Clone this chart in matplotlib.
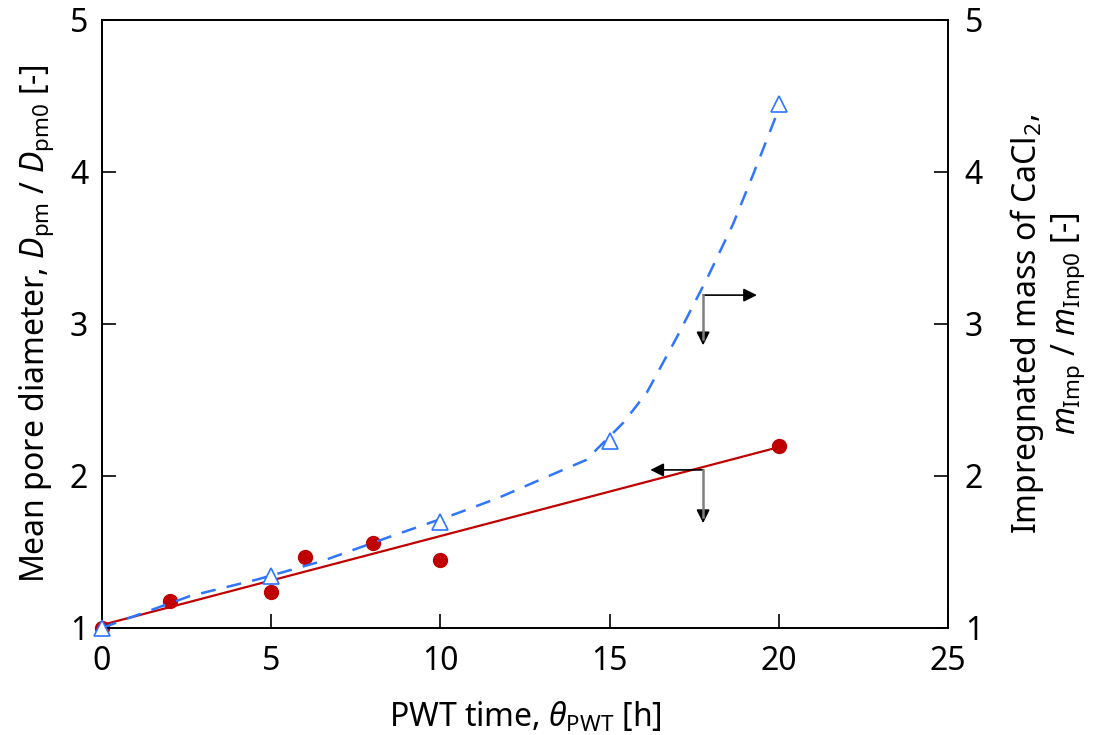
import matplotlib
matplotlib.use("Agg")
import matplotlib.pyplot as plt

plt.rcParams['font.family'] = ['Noto Sans', 'DejaVu Sans']
plt.rcParams['mathtext.fontset'] = 'custom'
plt.rcParams['mathtext.rm'] = 'Noto Sans'
plt.rcParams['mathtext.it'] = 'Noto Sans:italic'

# Mean pore diameter data (left axis)
pore_time = [0, 2, 5, 6, 8, 10, 20]
pore_ratio = [1.00, 1.18, 1.24, 1.47, 1.56, 1.45, 2.20]
# linear fit line for pore diameter
fit_time = [0, 20]
fit_ratio = [1.02, 2.19]

# Impregnated mass data (right axis)
mass_time = [0, 5, 10, 15, 20]
mass_ratio = [1.00, 1.34, 1.70, 2.23, 4.45]
# model curve for impregnated mass
curve_time = [0, 0.6, 2.6, 4.6, 6.5, 8.5, 10.5, 11.7, 13.2, 14.3, 15.4, 16.1, 17.0, 17.9, 18.65, 19.25, 19.9, 20.0]
curve_ratio = [1.00, 1.05, 1.21, 1.32, 1.44, 1.60, 1.755, 1.855, 2.00, 2.105, 2.35, 2.55, 2.92, 3.31, 3.66, 3.99, 4.36, 4.45]

xticks = [0, 5, 10, 15, 20, 25]
yticks = [1, 2, 3, 4, 5]

red = '#C00000'
blue = '#2E75FF'
FS = 23

fig = plt.figure(figsize=(10.96, 7.35), dpi=100)
ax = fig.add_axes([0.0931, 0.1456, 0.772, 0.8272])
ax2 = ax.twinx()

ax.plot(fit_time, fit_ratio, color=red, lw=1.6, zorder=2)
ax.plot(pore_time, pore_ratio, 'o', color=red, ms=10, mec=red, zorder=3, clip_on=False)

ax2.plot(curve_time, curve_ratio, '--', color=blue, lw=1.8, dashes=(6, 4.5), zorder=2)
ax2.plot(mass_time, mass_ratio, '^', mfc='white', mec=blue, ms=11, mew=1.2, zorder=3, clip_on=False)

for a in (ax, ax2):
    a.set_xlim(0, 25)
    a.set_ylim(1, 5)
    a.set_yticks(yticks)
    a.tick_params(direction='in', length=10, width=1.2, labelsize=FS)
    for s in a.spines.values():
        s.set_linewidth(1.3)
ax.set_xticks(xticks)
ax.tick_params(axis='x', pad=12)
ax.tick_params(axis='y', pad=10)
ax2.tick_params(axis='y', pad=12)

ax.set_xlabel(r'PWT time, $\theta_{\mathrm{PWT}}$ [h]', fontsize=FS, labelpad=16)
ax.set_ylabel(r'Mean pore diameter, $D_{\mathrm{pm}}$ / $D_{\mathrm{pm0}}$ [-]', fontsize=FS, labelpad=10)
ax2.set_ylabel('Impregnated mass of CaCl$_{2}$,\n' + r'$m_{\mathrm{Imp}}$ / $m_{\mathrm{Imp0}}$ [-]',
               fontsize=FS, labelpad=18, linespacing=1.1)

# indicator arrows
head = dict(arrowstyle='-|>', color='black', lw=1.2, mutation_scale=20, shrinkA=0, shrinkB=0)
gray = '#808080'
# upper (right axis)
ax.annotate('', xy=(19.35, 3.19), xytext=(17.76, 3.19), arrowprops=head)
ax.plot([17.76, 17.76], [3.19, 2.90], color=gray, lw=1.8, zorder=4)
ax.annotate('', xy=(17.76, 2.86), xytext=(17.76, 2.95), arrowprops=head)
# lower (left axis)
ax.annotate('', xy=(16.2, 2.04), xytext=(17.76, 2.04), arrowprops=head)
ax.plot([17.76, 17.76], [2.04, 1.73], color=gray, lw=1.8, zorder=4)
ax.annotate('', xy=(17.76, 1.69), xytext=(17.76, 1.78), arrowprops=head)

fig.savefig('out.png', dpi=100)
